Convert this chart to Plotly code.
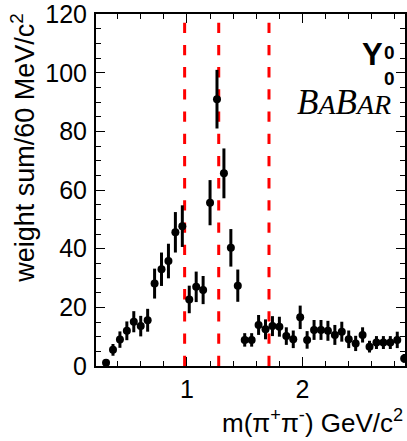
import plotly.graph_objects as go

# pi+pi- invariant mass bin centres (GeV/c^2), 60 MeV bins
mass = [0.30, 0.36, 0.42, 0.48, 0.54, 0.60, 0.66, 0.72, 0.78, 0.84, 0.90,
        0.96, 1.02, 1.08, 1.14, 1.20, 1.26, 1.32, 1.38, 1.44, 1.50, 1.56,
        1.62, 1.68, 1.74, 1.80, 1.86, 1.92, 1.98, 2.04, 2.10, 2.16, 2.22,
        2.28, 2.34, 2.40, 2.46, 2.52, 2.58, 2.64, 2.70, 2.76, 2.82, 2.88]

# Y00 moment (weight sum per bin) and its statistical uncertainty
weight_sum = [1.1, 5.5, 9.0, 12.0, 15.1, 13.6, 15.6, 28.1, 33.0, 35.8, 45.6,
              47.7, 22.7, 27.0, 25.9, 55.7, 91.0, 65.7, 40.3, 27.4, 8.9, 8.9,
              14.0, 12.5, 13.6, 13.4, 10.2, 9.1, 16.6, 8.9, 12.3, 12.3, 12.0,
              10.6, 11.7, 9.1, 7.7, 10.6, 6.6, 8.0, 8.0, 8.0, 8.9, 2.6]
weight_err = [0.8, 2.0, 2.8, 3.2, 3.6, 3.5, 3.9, 5.1, 5.7, 5.9, 6.9,
              7.1, 4.7, 5.2, 4.8, 7.7, 10.0, 8.5, 6.4, 5.5, 2.3, 2.3,
              3.4, 3.4, 3.4, 3.4, 3.0, 3.0, 4.0, 3.0, 3.4, 3.4, 3.4,
              3.4, 3.4, 3.0, 2.6, 2.6, 2.0, 2.2, 2.2, 2.2, 2.8, 1.5]

# resonance masses marked with dashed lines: f0(980), f2(1270), f0(1710)
resonance_mass = [0.98, 1.275, 1.71]

x_range = [0.213, 2.887]
y_range = [0, 120.05]
y_ticks = [0, 20, 40, 60, 80, 100, 120]
x_ticks = [1, 2]

FONT = "Liberation Sans, Arial, Helvetica, sans-serif"
SERIF = "Liberation Serif, Times New Roman, serif"

fig = go.Figure()

fig.add_trace(go.Scatter(
    x=mass, y=weight_sum,
    mode="markers",
    marker=dict(color="black", size=8, symbol="circle"),
    error_y=dict(type="data", array=weight_err, color="black",
                 thickness=3, width=0),
    showlegend=False,
))

for m in resonance_mass:
    fig.add_shape(type="line", xref="x", yref="y",
                  x0=m, x1=m, y0=0, y1=120,
                  line=dict(color="#ff0000", width=3, dash="10.3px,11.9px"),
                  layer="below")

axis_common = dict(
    showline=True, linecolor="black", linewidth=2,
    mirror="allticks", ticks="inside", tickcolor="black", tickwidth=1,
    showgrid=False, zeroline=False, ticklabeloverflow="allow",
    tickfont=dict(family=FONT, size=25, color="black"),
)

fig.update_xaxes(
    range=x_range, tickvals=x_ticks, ticklen=9, ticklabelstandoff=0,
    minor=dict(ticks="inside", ticklen=5, dtick=0.2, tick0=0,
               tickcolor="black", tickwidth=1, showgrid=False),
    **axis_common,
)
fig.update_yaxes(
    range=y_range, tickvals=y_ticks, ticklen=9, ticklabelstandoff=2,
    minor=dict(ticks="inside", ticklen=5, dtick=5, tick0=0,
               tickcolor="black", tickwidth=1, showgrid=False),
    **axis_common,
)

annotations = [
    # y-axis title, aligned to the top end of the axis
    dict(text="weight sum/60 MeV/c<sup>2</sup>", textangle=-90,
         xref="paper", yref="paper", x=-0.235, y=1.01,
         xanchor="center", yanchor="top", showarrow=False,
         font=dict(family=FONT, size=27, color="black")),
    # x-axis title, aligned to the right end of the axis
    dict(text="m(\u03c0<sup>+</sup>\u03c0<sup>-</sup>) GeV/c<sup>2</sup>",
         xref="paper", yref="paper", x=1.0, y=-0.159,
         xanchor="right", yanchor="middle", showarrow=False,
         font=dict(family=FONT, size=26, color="black")),
    # moment label Y^0_0
    dict(text="<b>Y</b>", xref="paper", yref="paper", x=0.894, y=0.886,
         xanchor="center", yanchor="middle", showarrow=False,
         font=dict(family=FONT, size=31, color="black")),
    dict(text="<b>0</b>", xref="paper", yref="paper", x=0.951, y=0.89,
         xanchor="center", yanchor="middle", showarrow=False,
         font=dict(family=FONT, size=19, color="black")),
    dict(text="<b>0</b>", xref="paper", yref="paper", x=0.951, y=0.818,
         xanchor="center", yanchor="middle", showarrow=False,
         font=dict(family=FONT, size=19, color="black")),
    # experiment logo
    dict(text="<i>B<span style='font-size:28px'>A</span>B"
              "<span style='font-size:28px'>AR</span></i>",
         xref="paper", yref="paper", x=0.96, y=0.75,
         xanchor="right", yanchor="middle", showarrow=False,
         font=dict(family=SERIF, size=35, color="black")),
]

fig.update_layout(
    width=407, height=441,
    margin=dict(l=96, r=0, t=14, b=75),
    paper_bgcolor="white", plot_bgcolor="white",
    annotations=annotations,
    font=dict(family=FONT, color="black"),
)

fig.write_html("out.html")
